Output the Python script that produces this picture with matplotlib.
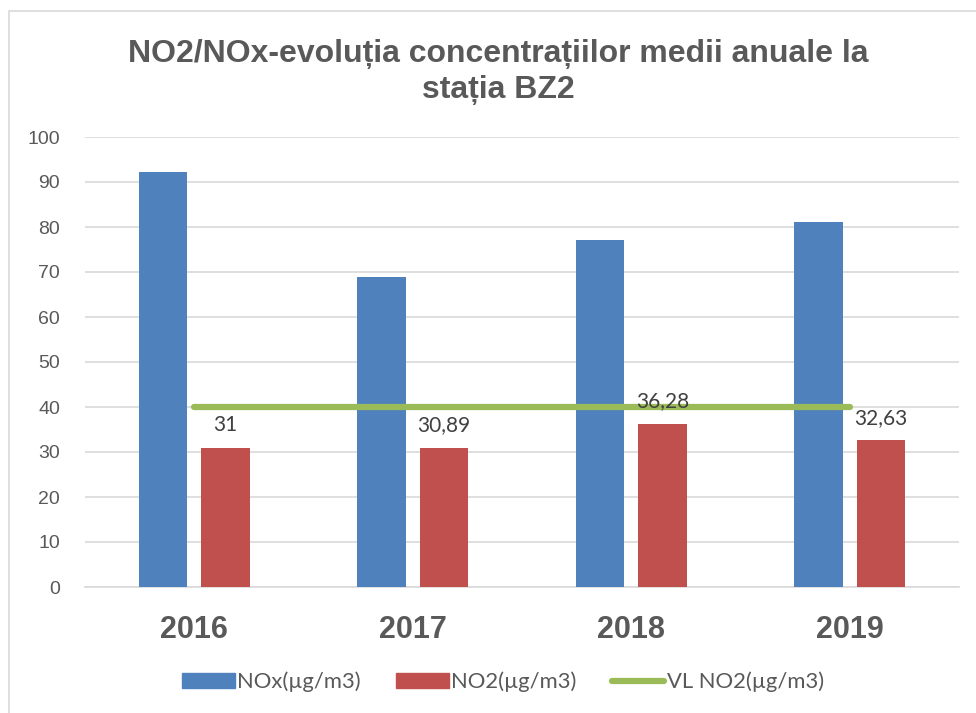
import matplotlib
matplotlib.use("Agg")
import matplotlib.pyplot as plt
import numpy as np
from matplotlib.patches import Rectangle
from matplotlib.lines import Line2D

years = ["2016", "2017", "2018", "2019"]
nox = [92.2, 68.9, 77.1, 81.1]
no2 = [31.0, 30.89, 36.28, 32.63]
vl_no2 = [40, 40, 40, 40]
no2_labels = ["31", "30,89", "36,28", "32,63"]
yticks = [0, 10, 20, 30, 40, 50, 60, 70, 80, 90, 100]
title = "NO2/NOx-evoluția concentrațiilor medii anuale la\nstația BZ2"
legend_labels = ["NOx(µg/m3)", "NO2(µg/m3)", "VL NO2(µg/m3)"]

blue = "#4f81bd"
red = "#c0504d"
green = "#9bbb59"
txt = "#595959"

fig = plt.figure(figsize=(9.76, 7.13), dpi=100)
# chart frame
fig.patches.append(Rectangle((9/976, -0.1), 1.2, (713-11)/713 + 0.1, transform=fig.transFigure,
                             fill=False, edgecolor="#d9d9d9", linewidth=1.2))

ax = fig.add_axes([85/976, (713-587)/713, (959-85)/976, (587-137)/713])
x = np.arange(len(years))
w = 0.224
off = 0.143
ax.bar(x - off, nox, width=w, color=blue, zorder=3, label=legend_labels[0])
ax.bar(x + off, no2, width=w, color=red, zorder=3, label=legend_labels[1])
ax.plot(x, vl_no2, color=green, linewidth=4.5, solid_capstyle="round", zorder=4, label=legend_labels[2])

for xi, v, lab in zip(x, no2, no2_labels):
    ax.annotate(lab, (xi + off, v), xytext=(0, 9), textcoords="offset points",
                ha="center", va="bottom", fontsize=15, color="#404040", family="Lato", zorder=5)

ax.set_xlim(-0.5, len(years) - 0.5)
ax.set_ylim(0, 100)
ax.set_yticks(yticks)
ax.set_yticklabels([str(t) for t in yticks], fontsize=14, color=txt, family="Liberation Sans")
ax.set_xticks(x)
ax.set_xticklabels(years, fontsize=22, fontweight="bold", color=txt, family="Liberation Sans")
ax.tick_params(axis="both", length=0)
ax.tick_params(axis="y", pad=18)
ax.tick_params(axis="x", pad=20)
ax.grid(axis="y", color="#d9d9d9", linewidth=1.2, zorder=0)
for s in ["top", "right", "left"]:
    ax.spines[s].set_visible(False)
ax.spines["bottom"].set_color("#d9d9d9")
ax.spines["bottom"].set_linewidth(1.2)

fig.text(498/976, 1 - 72/713, title, ha="center", va="center", fontsize=23, fontweight="bold",
         color=txt, family="Liberation Sans", linespacing=1.22)

handles = [Rectangle((0, 0), 1, 1, color=blue), Rectangle((0, 0), 1, 1, color=red),
           Line2D([0], [0], color=green, linewidth=4.5, solid_capstyle="round")]
leg = fig.legend(handles, legend_labels, loc="center", bbox_to_anchor=(503/976, 1 - 682/713), ncol=3,
                 frameon=False, handlelength=2.4, handleheight=0.72, columnspacing=1.6,
                 handletextpad=0.12, prop={"family": "Lato", "size": 15.8})
for t in leg.get_texts():
    t.set_color(txt)

fig.savefig("out.png", dpi=100)
